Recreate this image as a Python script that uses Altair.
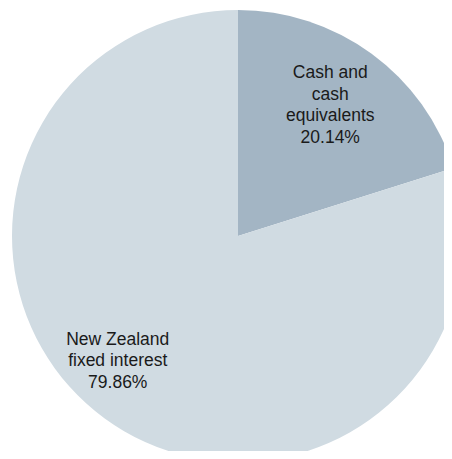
import altair as alt
import pandas as pd

categories = ["Cash and cash equivalents", "New Zealand fixed interest"]
values = [20.14, 79.86]
labels = ["Cash and\ncash\nequivalents\n20.14%", "New Zealand\nfixed interest\n79.86%"]
colors = ["#a3b5c4", "#d0dbe2"]
order = [0, 1]

df = pd.DataFrame({"category": categories, "value": values, "label": labels, "idx": order})

base = alt.Chart(df).encode(
    theta=alt.Theta("value:Q", stack=True),
    order=alt.Order("idx:Q"),
    x=alt.value(230),
    y=alt.value(228),
)

arcs = base.mark_arc(outerRadius=226).encode(
    color=alt.Color("category:N", scale=alt.Scale(domain=categories, range=colors), legend=None),
)


def lab(i, dx, dy):
    return base.transform_calculate(
        t=f"datum.idx == {i} ? datum.label : ''"
    ).mark_text(
        radius=156, dx=dx, dy=dy, font="Liberation Sans", fontSize=17.5,
        lineBreak="\n", lineHeight=21.5, color="#1a1a1a",
        baseline="middle", align="center",
    ).encode(text="t:N")


chart = alt.layer(arcs, lab(0, 0, -37), lab(1, -28, -22)).properties(
    width=436, height=443, autosize=alt.AutoSizeParams(type="none"), padding=0
).configure_view(stroke=None)

chart.save("out.html", embed_options={"renderer": "svg", "actions": False})
